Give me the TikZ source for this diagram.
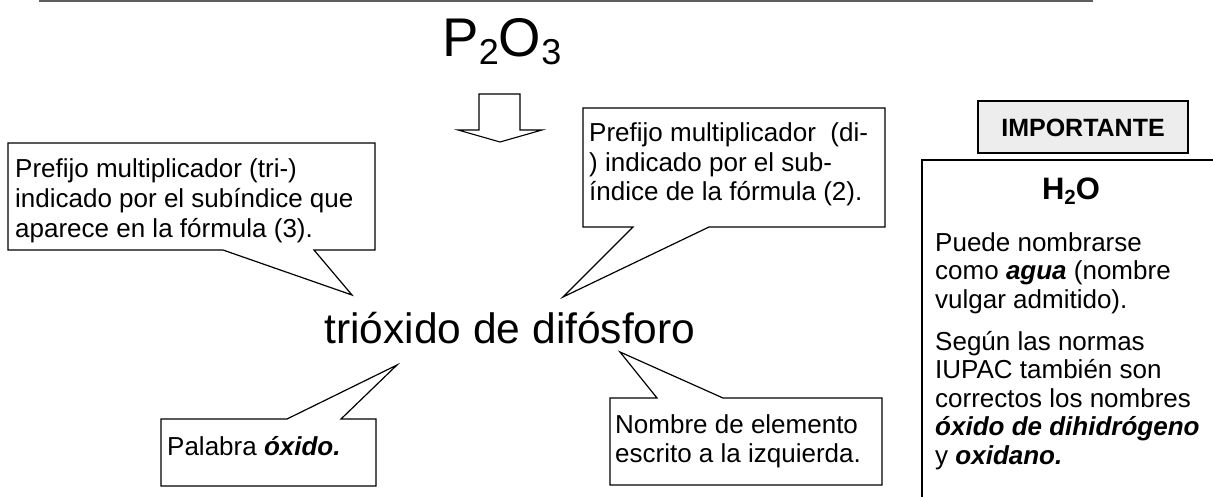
\documentclass[tikz,border=0pt]{standalone}
\usepackage{fontspec}
\setmainfont{Liberation Sans}
\definecolor{rulegray}{HTML}{5E5E5E}
\definecolor{boxgray}{HTML}{EDEDED}
\tikzset{
  callout/.style={draw=black, fill=white, line width=1.2pt, line join=miter},
  txt/.style={inner sep=0pt, anchor=base west, align=left, font=\fontsize{26}{29.5}\selectfont},
  boxtxt/.style={inner sep=0pt, anchor=base west, align=left, font=\fontsize{26}{28.5}\selectfont},
}
\newcommand{\bi}[1]{\textbf{\textit{#1}}}
\begin{document}
\begin{tikzpicture}[x=1pt,y=-1pt]
\useasboundingbox (0,0) rectangle (1213,497);
\begin{scope}
\clip (0,0) rectangle (1213,497);
% top rule
\draw[rulegray, line width=1.6pt] (39,0.8) coordinate (ruleL) -- (1093,0.8) coordinate (ruleR);

% formula
\node[inner sep=0pt, anchor=base, font=\fontsize{54.5}{60}\selectfont] (formula) at (502,57)
  {P\raisebox{-8pt}{\fontsize{36}{36}\selectfont 2}O\raisebox{-8pt}{\fontsize{36}{36}\selectfont 3}};

% block arrow
\draw[line width=1.1pt, fill=white, line join=miter]
  (479,94) -- (520,94) -- (520,130) -- (542,130) -- (500,142) -- (458,130) -- (479,130) -- cycle;

% name
\node[inner sep=0pt, anchor=base, font=\fontsize{42.5}{48}\selectfont] (name) at (510,343) {trióxido de difósforo};

% callout A (base anchor = last line's baseline)
\draw[callout] (8,143) -- (375,143) -- (375,250) -- (314,250) -- (352,295) coordinate (tipA) -- (223,250) -- (8,250) -- cycle;
\node[txt] (textA) at (15,237) {Prefijo multiplicador (tri-)\\indicado por el subíndice que\\aparece en la fórmula (3).};

% callout B
\draw[callout] (583,108) -- (885,108) -- (885,227) -- (709,227) -- (563,297) coordinate (tipB) -- (633,227) -- (583,227) -- cycle;
\node[txt] (textB) at (589,201) {Prefijo multiplicador\ \ (di-\\) indicado por el sub-\\índice de la fórmula (2).};

% callout C
\draw[callout] (161,419) -- (287,419) -- (397,365) coordinate (tipC) -- (341,419) -- (376,419) -- (376,486) -- (161,486) -- cycle;
\node[txt] (textC) at (167,455) {Palabra \bi{óxido.}};

% callout D
\draw[callout] (610,398) -- (657,398) -- (620,352) coordinate (tipD) -- (723,398) -- (882,398) -- (882,485) -- (610,485) -- cycle;
\node[txt] (textD) at (615,462.5) {Nombre de elemento\\escrito a la izquierda.};

% IMPORTANTE
\draw[line width=1.4pt, fill=boxgray] (978,101) rectangle (1188,153);
\node[inner sep=0pt, font=\fontsize{25}{28}\selectfont\bfseries] (imp) at (1083,127.5) {IMPORTANTE};

% big box
\draw[line width=1.8pt, fill=white] (922,160) rectangle (1240,520);
\node[inner sep=0pt, anchor=base, font=\fontsize{31}{34}\selectfont\bfseries] (water) at (1071,200)
  {H\raisebox{-5pt}{\fontsize{20.5}{21}\selectfont 2}O};
\node[boxtxt] (para1) at (935,308) {Puede nombrarse\\como \bi{agua} (nombre\\vulgar admitido).};
\node[boxtxt] (para2) at (935,464) {Según las normas\\IUPAC también son\\correctos los nombres\\\bi{óxido de dihidrógeno}\\y \bi{oxidano.}};
\end{scope}
\end{tikzpicture}
\end{document}
